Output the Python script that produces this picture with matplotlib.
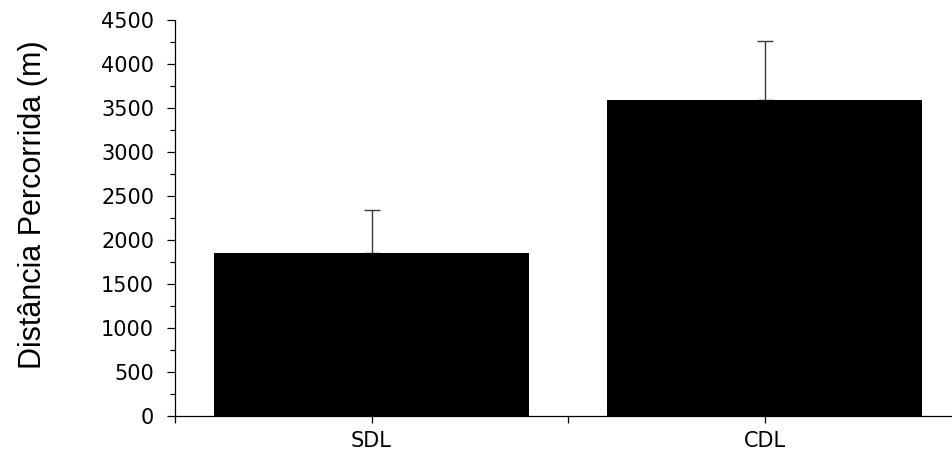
import numpy as np
import matplotlib
matplotlib.use('Agg')
import matplotlib.pyplot as plt
from matplotlib.ticker import MultipleLocator, FixedLocator

# data
groups = ['SDL', 'CDL']
means  = [1850, 3590]
errors = [490, 670]

yticks = [0, 500, 1000, 1500, 2000, 2500, 3000, 3500, 4000, 4500]

W, H = 952, 450
fig = plt.figure(figsize=(W / 100, H / 100), dpi=100)

# axes placed so that the x range 0.5..2.5 runs slightly past the right edge
ax = fig.add_axes([175 / W, 34 / H, 786 / W, 396 / H])

x = np.arange(1, len(groups) + 1)
ax.bar(x, means, width=0.8, color='black', zorder=2)
ax.errorbar(x, means, yerr=[np.zeros(len(errors)), errors], fmt='none',
            ecolor='#3a3a3a', elinewidth=1.0, capsize=6, capthick=1.0, zorder=1)

ax.set_xlim(0.5, 2.5)
ax.set_ylim(0, 4500)

ax.set_xticks(x)
ax.set_xticklabels(groups)
ax.xaxis.set_minor_locator(FixedLocator([0.5, 1.5, 2.5]))
ax.set_yticks(yticks)
ax.yaxis.set_minor_locator(MultipleLocator(250))

for s in ['top', 'right']:
    ax.spines[s].set_visible(False)
for s in ['left', 'bottom']:
    ax.spines[s].set_linewidth(0.9)

ax.tick_params(axis='y', which='major', direction='out', length=6, width=0.9,
               pad=9, labelsize=15)
ax.tick_params(axis='y', which='minor', direction='out', length=3.5, width=0.9)
ax.tick_params(axis='x', which='both', direction='out', length=5, width=0.9,
               pad=6, labelsize=15)
for lab in ax.get_xticklabels() + ax.get_yticklabels():
    lab.set_family('DejaVu Sans')

ax.set_ylabel('Distância Percorrida (m)', fontsize=22,
              family='Liberation Sans', va='center')
ax.yaxis.set_label_coords((33 - 175) / 786, (416 - 205) / 396)

fig.savefig('out.png', dpi=100)
